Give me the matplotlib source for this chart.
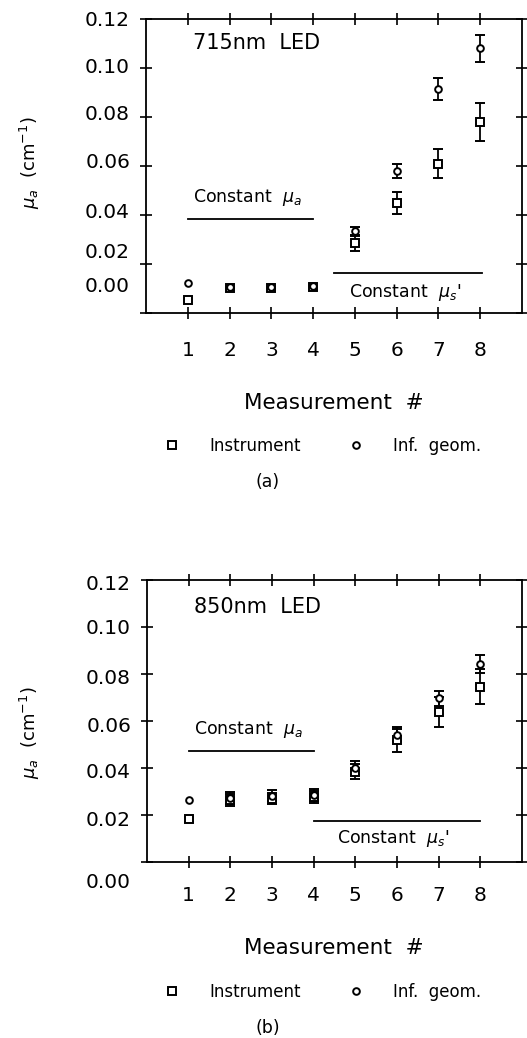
import matplotlib
matplotlib.use("Agg")
import matplotlib.pyplot as plt
import numpy as np
from matplotlib.lines import Line2D

plt.rcParams['font.family'] = ['DejaVu Sans']
plt.rcParams['mathtext.fontset'] = 'dejavusans'

# ---------------- data ----------------
measurement = [1, 2, 3, 4, 5, 6, 7, 8]
ytick_values = [0.00, 0.02, 0.04, 0.06, 0.08, 0.10, 0.12]
ytick_labels = ["0.00", "0.02", "0.04", "0.06", "0.08", "0.10", "0.12"]
xtick_labels = ["1", "2", "3", "4", "5", "6", "7", "8"]

# (a) 715 nm LED
a_instr = [0.0055, 0.0104, 0.0104, 0.0108, 0.0284, 0.0450, 0.0610, 0.0780]
a_instr_err = [np.nan, np.nan, np.nan, np.nan, 0.0030, 0.0045, 0.0060, 0.0078]
a_inf = [0.0122, 0.0108, 0.0106, 0.0110, 0.0335, 0.0580, 0.0915, 0.1080]
a_inf_err = [np.nan, np.nan, np.nan, np.nan, 0.0017, 0.0030, 0.0044, 0.0054]

# (b) 850 nm LED
b_instr = [0.0182, 0.0263, 0.0270, 0.0275, 0.0385, 0.0520, 0.0637, 0.0746]
b_instr_err = [0.0010, 0.0026, 0.0025, 0.0026, 0.0030, 0.0053, 0.0064, 0.0074]
b_inf = [0.0262, 0.0272, 0.0282, 0.0284, 0.0400, 0.0540, 0.0697, 0.0843]
b_inf_err = [np.nan, 0.0027, 0.0024, 0.0025, 0.0030, 0.0025, 0.0032, 0.0038]

W, H = 527, 1038
fig = plt.figure(figsize=(W / 100, H / 100), dpi=100)


def rect(l, t, r, b):
    return [l / W, 1 - b / H, (r - l) / W, (b - t) / H]


def panel(box, instr, ierr, inf, ferr, led_text, led_y,
          mua_line_y, mua_text_xy, mus_line, mus_text_xy,
          label_offsets, xpad, ylab_y, xlab_y, leg_y, tag, tag_y):
    ax = fig.add_axes(rect(*box))
    ax.set_xlim(0, 9)
    ax.set_ylim(0, 0.12)
    for s in ax.spines.values():
        s.set_linewidth(1.3)
    ax.errorbar(measurement, instr, yerr=ierr, fmt='s', ms=5.4, mfc='white',
                mec='black', mew=1.4, ecolor='black', elinewidth=1.3,
                capsize=3.5, capthick=1.3, zorder=3)
    ax.errorbar(measurement, inf, yerr=ferr, fmt='o', ms=4.8, mfc='white',
                mec='black', mew=1.4, ecolor='black', elinewidth=1.3,
                capsize=3.5, capthick=1.3, zorder=3)
    ax.set_xticks(measurement)
    ax.set_xticklabels(xtick_labels)
    ax.set_yticks(ytick_values)
    ax.tick_params(direction='inout', length=9, width=1.2, top=True,
                   right=True, labelleft=False, labelsize=14.5, pad=xpad)
    for v, lab, off in zip(ytick_values, ytick_labels, label_offsets):
        ax.annotate(lab, xy=(0, v), xycoords=('axes fraction', 'data'),
                    xytext=(-11.5, -off * 0.72), textcoords='offset points',
                    ha='right', va='center', fontsize=14.5)
    ax.text(0.125, led_y, led_text, transform=ax.get_yaxis_transform(),
            fontsize=15, ha='left', va='center')
    ax.plot([1, 4], [mua_line_y, mua_line_y], color='black', lw=1.3)
    ax.text(mua_text_xy[0], mua_text_xy[1], r"Constant  $\mu_a$",
            fontsize=12.5, ha='left', va='center')
    ax.plot(mus_line[:2], [mus_line[2], mus_line[2]], color='black', lw=1.3)
    ax.text(mus_text_xy[0], mus_text_xy[1], r"Constant  $\mu_s$'",
            fontsize=12.5, ha='left', va='center')
    fig.text(30 / W, 1 - ylab_y / H, r"$\mu_a$  (cm$^{-1}$)", rotation=90,
             ha='center', va='center', fontsize=13)
    fig.text(334 / W, 1 - xlab_y / H, "Measurement  #", ha='center',
             va='center', fontsize=15.5)
    handles = [Line2D([], [], marker='s', ls='none', mfc='white', mec='black',
                      mew=1.4, ms=5.4),
               Line2D([], [], marker='o', ls='none', mfc='white', mec='black',
                      mew=1.4, ms=4.8)]
    ax.legend(handles, ["Instrument", "Inf.  geom."], ncol=2, frameon=False,
              loc='center left', bbox_to_anchor=(164 / W, 1 - leg_y / H),
              bbox_transform=fig.transFigure, handlelength=1.0,
              handletextpad=1.75, columnspacing=2.75, borderpad=0,
              borderaxespad=0, fontsize=12)
    fig.text(268 / W, 1 - tag_y / H, tag, ha='center', va='center',
             fontsize=12.5)
    return ax


panel((146, 19, 522, 313), a_instr, a_instr_err, a_inf, a_inf_err,
      "715nm  LED", 0.110, 0.0384, (1.12, 0.047), (4.5, 8.05, 0.0162),
      (4.87, 0.0085), [-26, -12, -3, -3, -2, 0, 2], 16,
      163, 403, 446, "(a)", 482)

panel((147, 580, 522, 862), b_instr, b_instr_err, b_inf, b_inf_err,
      "850nm  LED", 0.1085, 0.0474, (1.12, 0.0562), (4.0, 8.0, 0.0176),
      (4.55, 0.0098), [20, 5, 5, 5, 4, 1, 4], 13,
      733, 948, 992, "(b)", 1028)

fig.savefig("out.png", dpi=100)
